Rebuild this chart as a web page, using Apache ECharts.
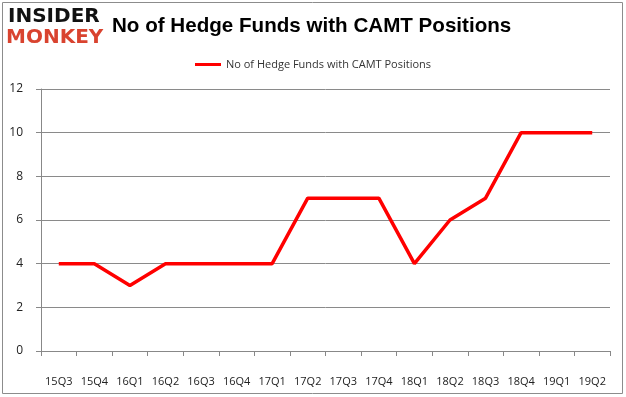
<!DOCTYPE html>
<html>
<head>
<meta charset="utf-8">
<script src="https://cdn.jsdelivr.net/npm/echarts@6/dist/echarts.min.js"></script>
<style>
  html, body { margin: 0; padding: 0; background: #fff; }
  #chart { width: 626px; height: 397px; }
</style>
</head>
<body>
<div id="chart"></div>
<script>
// quarters on the x axis
const quarters = ['15Q3', '15Q4', '16Q1', '16Q2', '16Q3', '16Q4', '17Q1', '17Q2',
  '17Q3', '17Q4', '18Q1', '18Q2', '18Q3', '18Q4', '19Q1', '19Q2'];
// number of hedge funds holding CAMT
const fundCounts = [4, 4, 3, 4, 4, 4, 4, 7, 7, 7, 4, 6, 7, 10, 10, 10];
const seriesName = 'No of Hedge Funds with CAMT Positions';

const myChart = echarts.init(document.getElementById('chart'));

myChart.setOption({
  animation: false,
  title: {
    text: 'No of Hedge Funds with CAMT Positions',
    left: 107,
    top: 11,
    textStyle: {
      fontFamily: 'Liberation Sans',
      fontWeight: 'bold',
      fontSize: 20.6,
      color: '#000'
    }
  },
  graphic: [
    {
      type: 'rect',
      shape: { x: 2.5, y: 2.5, width: 620, height: 391 },
      style: { fill: 'none', stroke: '#8c8c8c', lineWidth: 1 }
    },
    {
      type: 'text',
      left: 8,
      top: 7,
      style: {
        text: 'INSIDER',
        fontFamily: 'DejaVu Sans',
        fontWeight: 'bold',
        fontSize: 20,
        fill: '#111'
      }
    },
    {
      type: 'text',
      left: 6,
      top: 28,
      style: {
        text: 'MONKEY',
        fontFamily: 'DejaVu Sans',
        fontWeight: 'bold',
        fontSize: 20,
        fill: '#d9432f'
      }
    }
  ],
  legend: {
    top: 54,
    left: 'center',
    itemWidth: 26,
    itemHeight: 3,
    icon: 'rect',
    textStyle: { fontFamily: 'Open Sans', fontSize: 11, color: '#333' },
    data: [seriesName]
  },
  grid: {
    left: 41,
    right: 16,
    top: 89,
    bottom: 46
  },
  xAxis: {
    type: 'category',
    data: quarters,
    boundaryGap: true,
    axisLine: { lineStyle: { color: '#888' } },
    axisTick: { show: true, length: 5, lineStyle: { color: '#888' } },
    axisLabel: {
      color: '#222',
      fontFamily: 'Open Sans',
      fontSize: 11,
      margin: 25,
      interval: 0
    },
    splitLine: { show: false }
  },
  yAxis: {
    type: 'value',
    min: 0,
    max: 12,
    interval: 2,
    axisLine: { show: true, lineStyle: { color: '#888' } },
    axisTick: { show: true, length: 5, lineStyle: { color: '#888' } },
    axisLabel: {
      color: '#222',
      fontFamily: 'Open Sans',
      fontSize: 12,
      margin: 18
    },
    splitLine: { show: true, lineStyle: { color: '#8a8a8a', width: 1 } }
  },
  series: [
    {
      name: seriesName,
      type: 'line',
      data: fundCounts,
      showSymbol: false,
      symbol: 'none',
      lineStyle: { color: '#ff0000', width: 3.5 },
      itemStyle: { color: '#ff0000' }
    }
  ]
});
</script>
</body>
</html>
